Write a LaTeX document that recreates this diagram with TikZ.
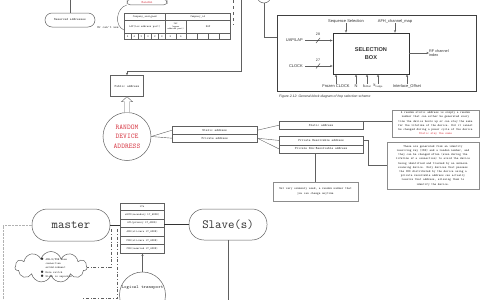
\documentclass[tikz,border=0pt]{standalone}
\usepackage{fontspec}
\newfontfamily\arialf{Liberation Sans}
\usetikzlibrary{arrows.meta,calc,shapes.symbols}
\definecolor{lc}{HTML}{606060}
\definecolor{rtxt}{HTML}{D8404C}
\definecolor{tx}{HTML}{303030}
\newcommand\fsz[2]{\fontsize{#1}{#2}\selectfont}
\begin{document}
\begin{tikzpicture}[x=1pt,y=-1pt,
  every node/.style={text=tx},
  ln/.style={draw=lc, line width=0.4pt},
  arr/.style={ln, -{Stealth[length=2.6pt,width=2.2pt]}},
  bx/.style={draw=lc, line width=0.4pt, inner sep=0pt, font=\fsz{3.3}{4}\ttfamily, align=center},
  cell/.style={bx, font=\fsz{2.8}{3.2}\ttfamily},
  stad/.style={draw=lc, line width=0.5pt, inner sep=0pt, align=center},
  note/.style={draw=black!45, line width=0.8pt, inner sep=0pt, align=center, font=\fsz{3.1}{4.2}\ttfamily},
  sans/.style={inner sep=0pt, font=\fsz{4}{4.6}\arialf},
  dd/.style={draw=lc, line width=0.5pt, dash dot},
]
\useasboundingbox (0,0) rectangle (480,300);
\clip (0,0) rectangle (480,300);

% ---------- top left ----------
\coordinate (t0) at (70,0);
\node[stad, rounded corners=7pt, minimum width=50, minimum height=14, font=\fsz{3.3}{4}\ttfamily] (res) at (70,20) {Reserved addresses};
\draw[ln] (t0) -- (res.north);
\node[inner sep=0pt, font=\fsz{3.3}{4}\ttfamily] (orc) at (108,27.5) {Or can't use};

\node[stad, rounded corners=3pt, minimum width=40, inner xsep=0pt, inner ysep=1.6pt, anchor=south, font=\fsz{3.3}{4}\ttfamily, text=rtxt] (rnd) at (147,5) {Random};
\coordinate (cv) at (124,30);
\draw[ln] (rnd.south west) .. controls (116,8) and (114,26) .. (cv);
\coordinate (ds0) at (233,0);
\coordinate (ds1) at (233,25);
\draw[ln, dashed] (ds0) -- (ds1);

% company table
\node[cell, minimum width=41, minimum height=7, anchor=north west] (ca) at (124,13) {Company\_assigned};
\node[cell, minimum width=65, minimum height=7, anchor=north west] (ci) at (165,13) {Company\_id};
\node[cell, minimum width=41, minimum height=13, anchor=north west] (lap) at (124,20) {LAP(low address part)};
\node[cell, minimum width=21, minimum height=13, anchor=north west, font=\fsz{2.4}{2.8}\ttfamily] (uap) at (165,20) {UAP\\(upper\\address part)};
\node[cell, minimum width=44, minimum height=13, anchor=north west] (nap) at (186,20) {NAP};
\foreach \d [count=\i from 0] in {3,4,2,0,2,3} {
  \node[cell, minimum width=6.833, minimum height=6, anchor=north west] (l\i) at ({124+\i*6.833},33) {\d};
}
\foreach \d [count=\i from 0] in {3,4} {
  \node[cell, minimum width=10.5, minimum height=6, anchor=north west] (u\i) at ({165+\i*10.5},33) {\d};
}
\foreach \i in {0,...,3} {
  \node[cell, minimum width=11, minimum height=6, anchor=north west] (n\i) at ({186+\i*11},33) {};
}

% public address connector
\node[bx, minimum width=33, minimum height=21] (pub) at (127,86) {Public address};
\coordinate (c0) at (241,0);
\coordinate (c1) at (241,71);
\draw[arr] (c0) -- (c1) -| (pub.north);

% ---------- figure 2.12 ----------
\node[draw=black!75, line width=0.8pt, minimum width=199, minimum height=76, anchor=north west, inner sep=0pt] (fr) at (277,15) {};
\node[draw=black!80, line width=0.7pt, minimum width=76, minimum height=41, inner sep=0pt, align=center, font=\fsz{5.6}{7.5}\arialf\bfseries] (sb) at (371,53.5) {SELECTION\\BOX};
\node[sans] (seq) at (346,21) {Sequence Selection};
\node[sans] (afh) at (395,21) {AFH\_channel\_map};
\draw[arr] (seq.south) -- (seq.south |- sb.north);
\draw[arr] (afh.south) -- (afh.south |- sb.north);
\node[sans, anchor=east] (ul) at (303,40.5) {UAP/LAP};
\node[sans, anchor=east] (ck) at (303,66) {CLOCK};
\draw[arr] (ul.east) ++(2,0) coordinate (ule) -- (ule -| sb.west);
\draw[arr] (ck.east) ++(2,0) coordinate (cke) -- (cke -| sb.west);
\coordinate (sl1a) at (316,43); \coordinate (sl1b) at (320,38);
\coordinate (sl2a) at (316,68.5); \coordinate (sl2b) at (320,63.5);
\draw[ln, draw=black!80] (sl1a) -- (sl1b);
\draw[ln, draw=black!80] (sl2a) -- (sl2b);
\node[sans, font=\fsz{3.6}{4}\arialf] (w28) at (318,34) {28};
\node[sans, font=\fsz{3.6}{4}\arialf] (w27) at (318,60) {27};
\coordinate (rfs) at (409,53);
\node[sans, anchor=west, align=left, font=\fsz{3.8}{4.4}\arialf] (rf) at (429,53) {RF channel\\index};
\draw[arr] (rfs) -- (rf.west);
\node[sans] (fz) at (336,86) {Frozen CLOCK};
\node[sans] (nn) at (356,86) {N};
\node[sans] (ko) at (367,86) {k\raisebox{-0.4ex}{\fsz{2.4}{2.8}offset}};
\node[sans] (kn) at (378,86) {k\raisebox{-0.4ex}{\fsz{2.4}{2.8}nudge}};
\node[sans] (io) at (407,86) {Interlace\_Offset};
\foreach \n in {fz,nn,ko,kn,io} {
  \draw[arr] (\n.north) -- (\n.north |- sb.south);
}
\node[sans, anchor=west, font=\fsz{3.4}{4}\arialf\itshape] (cap) at (279,96.5) {Figure 2.12: General block diagram of hop selection scheme};
\node[draw=lc, line width=0.5pt, circle, minimum size=14, inner sep=0pt] (topc) at (264,-4) {};
\coordinate (tc1) at (264,37);
\draw[ln] (topc.south) -- (tc1) -- (tc1 -| fr.west);

% ---------- random device address ----------
\node[draw=lc, line width=0.5pt, circle, minimum size=48, inner sep=0pt, align=center, text=rtxt, font=\fsz{7.2}{9.6}\ttfamily] (rda) at (127,136.5) {RANDOM\\DEVICE\\ADDRESS};
\draw[ln, fill=white] ($(rda.north)+(-2.5,0)$) -- ($(rda.north)+(-2.5,-10.5)$) -- ($(rda.north)+(-5.5,-10.5)$) -- (pub.south) -- ($(rda.north)+(5.5,-10.5)$) -- ($(rda.north)+(2.5,-10.5)$) -- ($(rda.north)+(2.5,0)$);

\node[bx, minimum width=85, minimum height=8, anchor=north west] (sa) at (172,126) {Static address};
\node[bx, minimum width=85, minimum height=8, anchor=north west] (pa) at (172,134) {Private address};
\draw[ln] (rda.east) -- (sa.west);
\draw[ln] (rda.east) -- (pa.west);

\node[bx, minimum width=84, minimum height=8, anchor=north west] (st) at (279,121) {Static address};
\node[bx, minimum width=84, minimum height=8.5, anchor=north west] (prv) at (279,136) {Private Resolvable address};
\node[bx, minimum width=84, minimum height=8.5, anchor=north west] (pnr) at (279,144.5) {Private Non-Resolvable address};
\draw[ln] (sa.east) -- (st.west);
\draw[ln] (pa.east) -- (prv.west);
\draw[ln] (pa.east) -- (pnr.west);

\node[note, minimum width=87, minimum height=27] (n1) at (435.5,123.5) {A random static address is simply a random\\number that can either be generated every\\time the device boots up or can stay the same\\for the lifetime of the device. But it cannot\\be changed during a power cycle of the device\\\textcolor{rtxt}{Static stay the same}};
\node[note, minimum width=92, minimum height=47] (n2) at (433,165.5) {These are generated from an identity\\resolving key (IRK) and a random number, and\\they can be changed often (even during the\\lifetime of a connection) to avoid the device\\being identified and tracked by an unknown\\scanning device. Only devices that possess\\the IRK distributed by the device using a\\private resolvable address can actually\\resolve that address, allowing them to\\identify the device.};
\node[note, minimum width=85, minimum height=19] (n3) at (315.5,191.5) {Not very commonly used, a random number that\\you can change anytime};
\draw[ln] (st.north east) -- (st.north east -| n1.west);
\draw[ln] (prv.east) -- ++(5,0) |- (n2.west);
\draw[ln] (n3.north |- pnr.south) -- (n3.north);

% ---------- bottom ----------
\node[stad, rounded corners=15.5pt, minimum width=78, minimum height=32, font=\fsz{12.5}{14}\ttfamily] (m) at (71,225) {master};
\node[stad, rounded corners=15pt, minimum width=78, minimum height=31, font=\fsz{12.5}{14}\ttfamily] (s) at (228,224.5) {Slave(s)};

\node[cell, minimum width=44, minimum height=7, anchor=north west] (r0) at (120,203) {LTs};
\node[cell, minimum width=44, minimum height=8.6, anchor=north west] (r1) at (120,210) {eSCO(secondary LT\_ADDR)};
\node[cell, minimum width=44, minimum height=8.6, anchor=north west] (r2) at (120,218.6) {ACL(primary LT\_ADDR)};
\node[cell, minimum width=44, minimum height=8.6, anchor=north west] (r3) at (120,227.2) {ASB(all-zero LT\_ADDR)};
\node[cell, minimum width=44, minimum height=8.6, anchor=north west] (r4) at (120,235.8) {PSB(all-zero LT\_ADDR)};
\node[cell, minimum width=44, minimum height=8.6, anchor=north west] (r5) at (120,244.4) {CSB(reserved LT\_ADDR)};
\draw[draw=black!80, line width=1pt] (m.east) -- (r2.west |- m.east);
\draw[draw=black!80, line width=1pt] (r2.east |- s.west) -- (s.west);

\node[draw=lc, line width=0.5pt, circle, minimum size=46, inner sep=0pt] (lt) at (142.5,295) {};
\node[inner sep=0pt, font=\fsz{4.6}{5}\ttfamily] (ltt) at (142.5,287.5) {Logical transport};
\draw[arr] (lt.north) -- (lt.north |- r5.south);

\node[cloud, draw=lc, line width=0.5pt, cloud puffs=11, cloud ignores aspect, minimum width=72, minimum height=31] (cl) at (51,267) {};
\node[inner sep=0pt, align=left, font=\fsz{2.9}{4.1}\ttfamily] (clt) at (56,268) {$\bullet$ ASB-U/PSB when\\\hphantom{$\bullet$ }connection\\\hphantom{$\bullet$ }establishment\\$\bullet$ Role switch\\$\bullet$ Slave is unparked};

\coordinate (d1) at (111,229);
\coordinate (d2) at (117,229);
\coordinate (d3) at (83,298);
\draw[dd] (d1) |- (cl.east);
\draw[dd] (d2) |- (d3);

\coordinate (g1) at (3,225);
\coordinate (g2) at (3,300);
\draw[draw=black!30, line width=0.4pt, densely dotted] (m.west) -- (g1) -- (g2);

\coordinate (sbot) at (228,300);
\draw[ln] (s.south) -- (sbot);
\end{tikzpicture}
\end{document}
